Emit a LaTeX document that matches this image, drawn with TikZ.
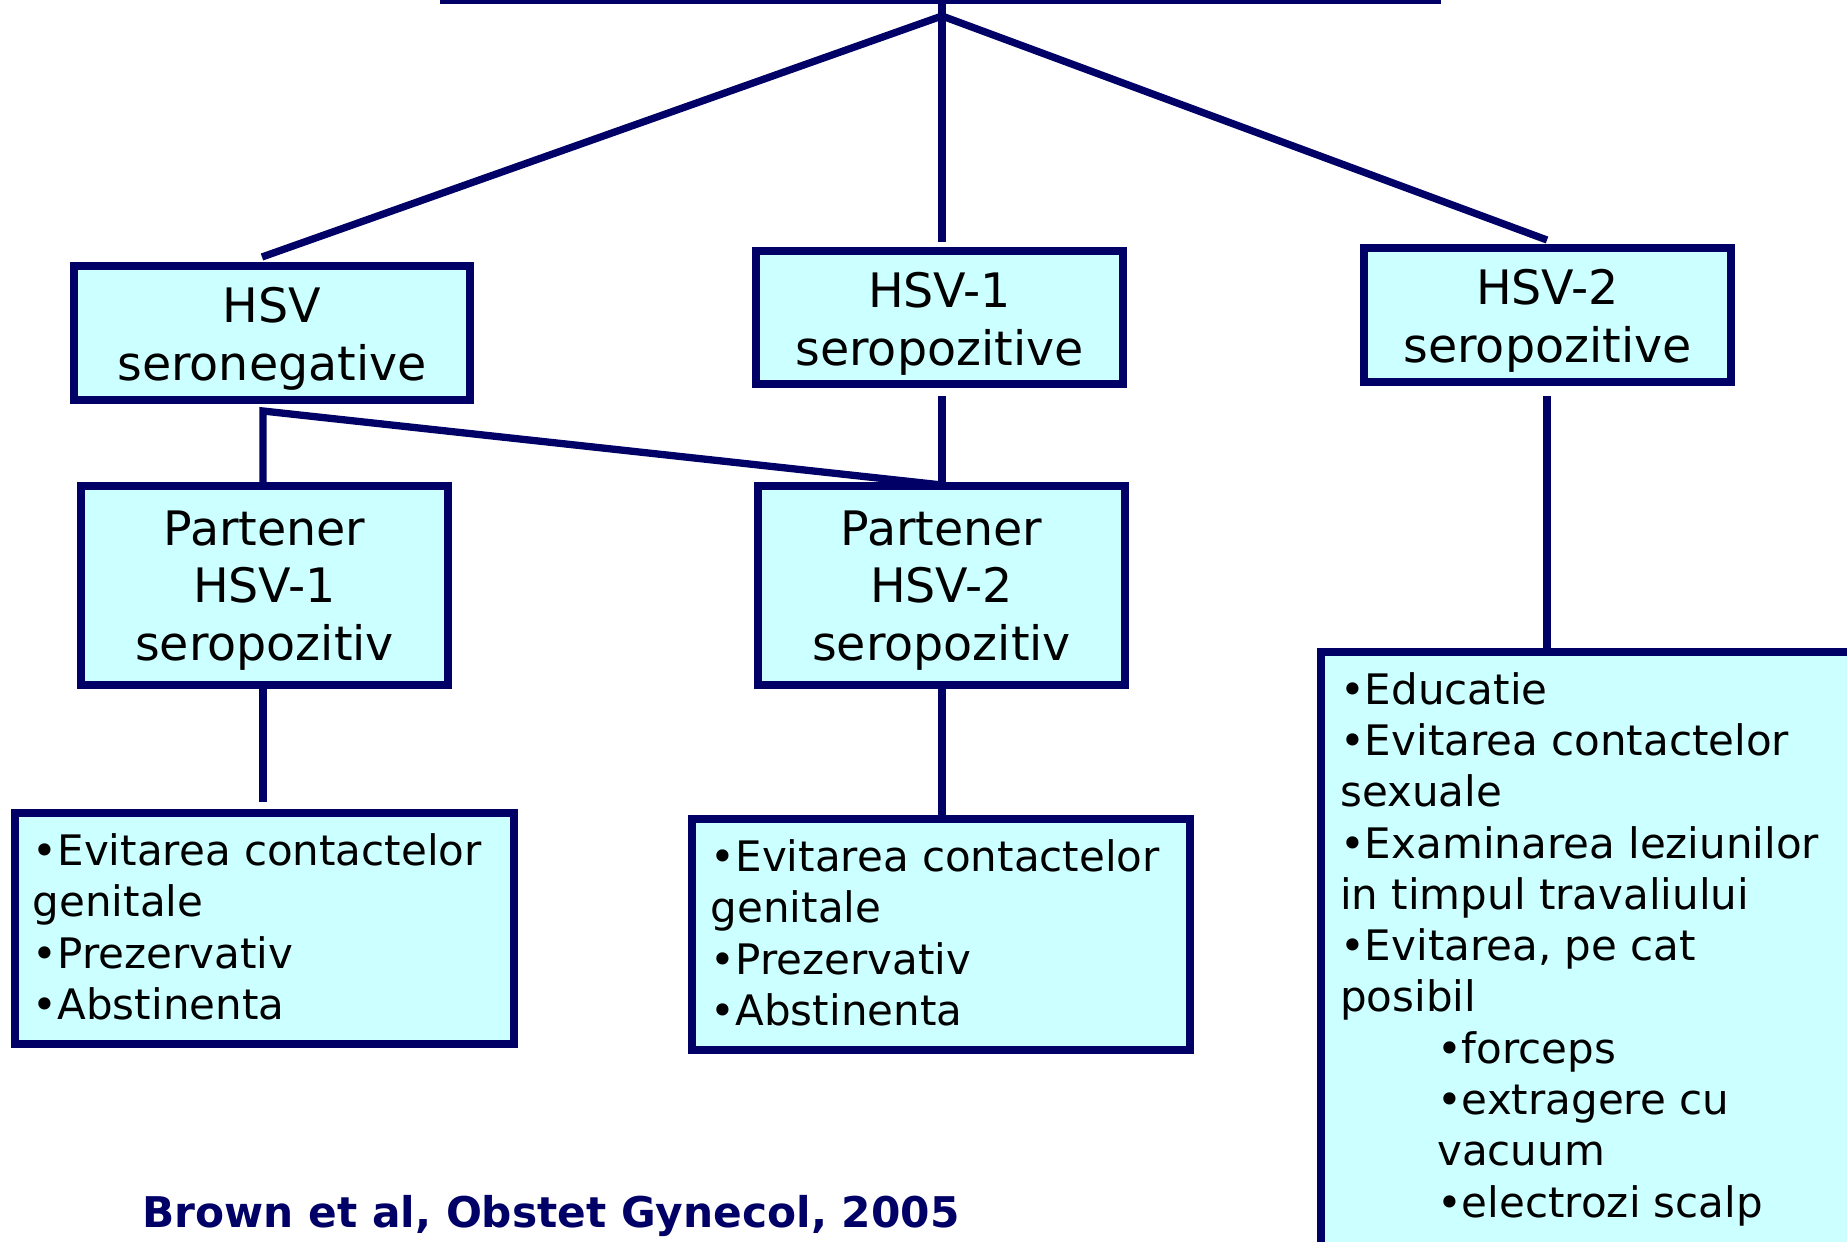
\documentclass[tikz,border=0pt]{standalone}
\usepackage{fontspec}
\setmainfont{DejaVu Sans}
\usetikzlibrary{calc}
\definecolor{navy}{HTML}{000066}
\definecolor{paleaqua}{HTML}{CCFFFF}

\begin{document}
\begin{tikzpicture}[x=1pt,y=-1pt,
  link/.style={draw=navy, line width=7.3pt},
  box/.style={draw=navy, fill=paleaqua, line width=8.3pt, inner sep=0pt},
  title/.style={inner sep=0pt, align=center, font=\fontsize{47.5}{57.7}\selectfont},
  listtext/.style={anchor=north west, inner sep=0pt, align=left,
    font=\fontsize{42}{51.3}\selectfont},
  cite/.style={text=navy, inner sep=0pt, font=\bfseries\fontsize{42.3}{50}\selectfont}]

\path[use as bounding box, clip] (0,0) rectangle (1847,1242);

% edge of the box above the chart
\coordinate (topL) at (440,2);
\coordinate (topR) at (1441,2);
\coordinate (topM) at (942,0);
\draw[navy, line width=4pt] (topL) -- (topR);

% branching points and free ends of connectors
\coordinate (apex) at (942,16);
\coordinate (negIn) at (262,257);
\coordinate (hsvOneIn) at (942,242);
\coordinate (hsvTwoIn) at (1547,240);
\coordinate (negJ) at (263,411);
\coordinate (pOneIn) at (263,485);
\coordinate (pTwoIn) at (942,485);
\coordinate (hsvOneOut) at (942,396);
\coordinate (hsvTwoOut) at (1547,396);
\coordinate (pOneOut) at (263,686);
\coordinate (pOneEnd) at (263,802);
\coordinate (pTwoOut) at (942,686);
\coordinate (bTwoIn) at (942,818);
\coordinate (bThreeIn) at (1547,650);

% connectors
\draw[link] (topM) -- (hsvOneIn);
\draw[link] (negIn) -- (apex) -- (hsvTwoIn);
\draw[link] (pOneIn) -- (negJ) -- (pTwoIn);
\draw[link] (hsvOneOut) -- (pTwoIn);
\draw[link] (pOneOut) -- (pOneEnd);
\draw[link] (pTwoOut) -- (bTwoIn);
\draw[link] (hsvTwoOut) -- (bThreeIn);

% serology boxes
\node[box, minimum width=395.7, minimum height=133.7] (neg) at (272,333) {};
\node[box, minimum width=366.7, minimum height=132.7] (hsvone) at (939.5,317.5) {};
\node[box, minimum width=366.7, minimum height=133.7] (hsvtwo) at (1547.5,315) {};
\node[title] (negtext) at ([yshift=-6pt]neg.center) {HSV\\seronegative};
\node[title] (hsvonetext) at ([yshift=-6pt]hsvone.center) {HSV-1\\seropozitive};
\node[title] (hsvtwotext) at ([yshift=-6pt]hsvtwo.center) {HSV-2\\seropozitive};

% partner boxes
\node[box, minimum width=366.7, minimum height=198.7] (pone) at (264.5,585.5) {};
\node[box, minimum width=366.7, minimum height=198.7] (ptwo) at (941.5,585.5) {};
\node[title] (ponetext) at ([yshift=-5pt]pone.center) {Partener\\HSV-1\\seropozitiv};
\node[title] (ptwotext) at ([yshift=-5pt]ptwo.center) {Partener\\HSV-2\\seropozitiv};

% recommendation boxes
\node[box, minimum width=498.7, minimum height=230.7] (bone) at (264.5,928.5) {};
\node[box, minimum width=497.7, minimum height=230.7] (btwo) at (941,934.5) {};
\node[box, anchor=north west, minimum width=600, minimum height=700] (bthree) at (1317,648) {};

\node[listtext] (bonetext) at (32.6,833.4) {•Evitarea contactelor\\genitale\\•Prezervativ\\•Abstinenta};
\node[listtext] (btwotext) at (710.6,839.4) {•Evitarea contactelor\\genitale\\•Prezervativ\\•Abstinenta};
\node[listtext] (bthreetext) at (1340,672) {•Educatie\\•Evitarea contactelor\\sexuale\\•Examinarea leziunilor\\in timpul travaliului\\•Evitarea, pe cat\\posibil\\\hspace*{97pt}•forceps\\\hspace*{97pt}•extragere cu\\\hspace*{97pt}vacuum\\\hspace*{97pt}•electrozi scalp};

% reference
\node[cite] (ref) at (551,1216) {Brown et al, Obstet Gynecol, 2005};

\end{tikzpicture}
\end{document}
